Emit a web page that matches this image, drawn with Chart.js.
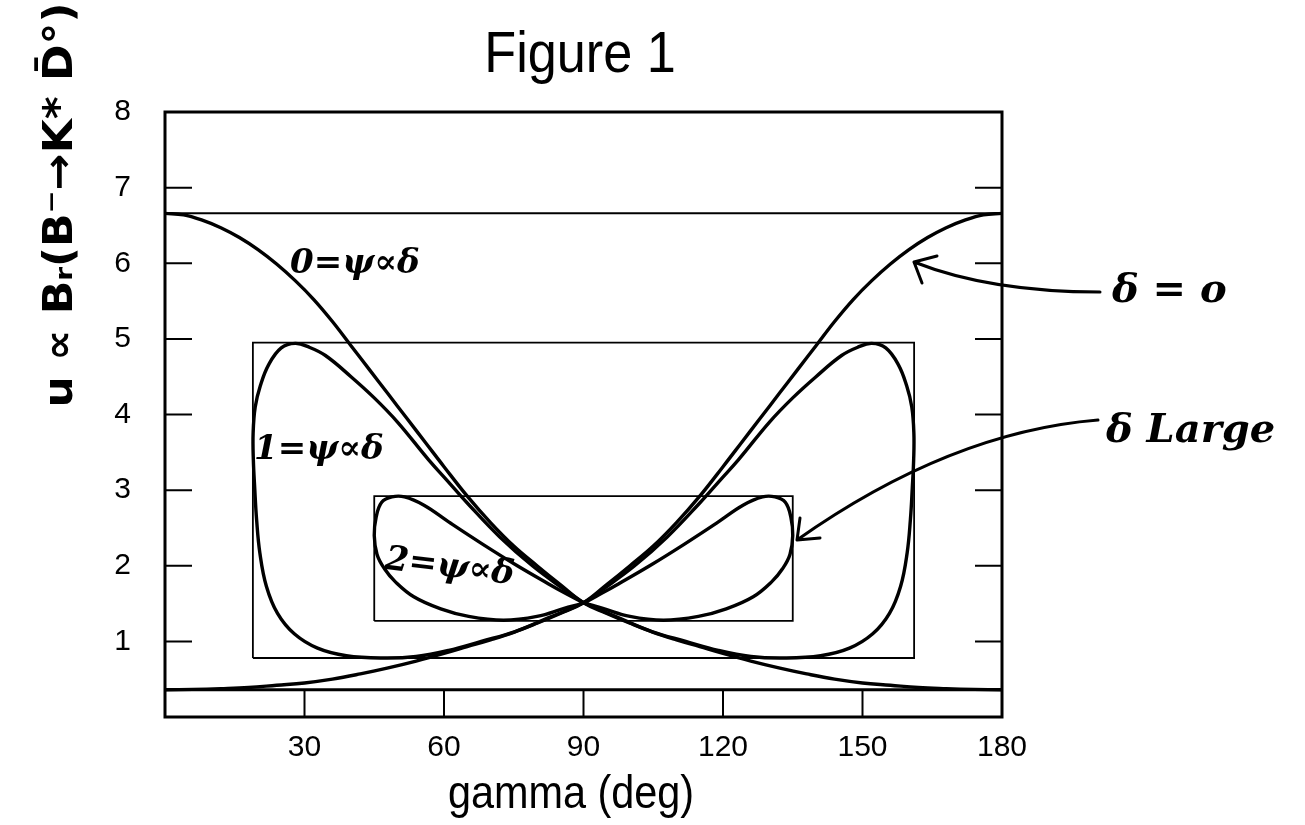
<!DOCTYPE html>
<html>
<head>
<meta charset="utf-8">
<script src="https://cdn.jsdelivr.net/npm/chart.js@4.4.0/dist/chart.umd.min.js"></script>
<style>
  body { margin: 0; background: #fff; }
  #fig { display: block; }
</style>
</head>
<body>
<canvas id="fig" width="1305" height="825"></canvas>
<script>
// values
var xTicks = [0, 30, 60, 90, 120, 150, 180];
var yTicks = [0, 1, 2, 3, 4, 5, 6, 7, 8];

// delta = 0 : two monotone curves
var d0DownX = [0, 4, 8, 12, 16, 20, 24, 28, 32, 36, 40, 44, 48, 52, 56, 60, 65, 70, 75, 80, 85, 90,
               95, 100, 105, 110, 115, 120, 126, 132, 138, 144, 150, 156, 162, 168, 174, 180];
var d0DownY = [6.66, 6.64, 6.57, 6.47, 6.34, 6.18, 5.99, 5.77, 5.52, 5.23, 4.91, 4.59, 4.27, 3.95, 3.63, 3.31, 2.92, 2.57, 2.26, 2.00, 1.75, 1.51,
               1.37, 1.24, 1.12, 1.02, 0.93, 0.84, 0.74, 0.65, 0.57, 0.50, 0.45, 0.42, 0.39, 0.375, 0.365, 0.36];
var d0UpX = [0, 6, 12, 18, 24, 30, 36, 42, 48, 54, 60, 65, 70, 75, 80, 85, 90,
             95, 100, 105, 110, 115, 120, 124, 128, 132, 136, 140, 144, 148, 152, 156, 160, 164, 168, 172, 176, 180];
var d0UpY = [0.36, 0.365, 0.375, 0.39, 0.42, 0.45, 0.50, 0.57, 0.65, 0.74, 0.84, 0.93, 1.02, 1.12, 1.24, 1.37, 1.51,
             1.75, 2.00, 2.26, 2.57, 2.92, 3.31, 3.63, 3.95, 4.27, 4.59, 4.91, 5.23, 5.52, 5.77, 5.99, 6.18, 6.34, 6.47, 6.57, 6.64, 6.66];
var d0Bounds = [6.66, 0.36];

// delta = 1 : figure-eight through (90, 1.51)
var d1X = [90, 86, 79, 72, 65, 60.5, 56.7, 50, 45, 40, 34.5, 31, 28, 25, 22.3, 20.5, 19.4, 18.95,
           19.0, 19.3, 19.7, 20.4, 21.8, 24.2, 27.8, 32.8, 39, 47, 54, 61, 68, 75.3, 82.4, 90,
           94, 101, 108, 115, 119.5, 123.3, 130, 135, 140, 145.5, 149, 152, 155, 157.7, 159.5, 160.6, 161.05,
           161, 160.7, 160.3, 159.6, 158.2, 155.8, 152.2, 147.2, 141, 133, 126, 119, 112, 104.7, 97.6, 90];
var d1Y = [1.51, 1.68, 2.00, 2.38, 2.83, 3.14, 3.40, 3.90, 4.22, 4.50, 4.78, 4.89, 4.94, 4.88, 4.66, 4.38, 4.10, 3.75,
           3.40, 3.02, 2.61, 2.17, 1.73, 1.37, 1.10, 0.91, 0.81, 0.78, 0.80, 0.88, 1.00, 1.13, 1.31, 1.51,
           1.68, 2.00, 2.38, 2.83, 3.14, 3.40, 3.90, 4.22, 4.50, 4.78, 4.89, 4.94, 4.88, 4.66, 4.38, 4.10, 3.75,
           3.40, 3.02, 2.61, 2.17, 1.73, 1.37, 1.10, 0.91, 0.81, 0.78, 0.80, 0.88, 1.00, 1.13, 1.31, 1.51];
var d1BoxX = [18.9, 161.1];
var d1BoxY = [0.78, 4.95];

// delta = 2 : smaller figure-eight
var d2X = [90, 86, 82.5, 75.5, 68.2, 61, 55.7, 51.5, 48.8, 46.6, 45.4, 45.0, 45.6, 47.2, 49.5, 53.5, 59.3, 65.3, 72.8, 80, 86, 90,
           94, 97.5, 104.5, 111.8, 119, 124.3, 128.5, 131.2, 133.4, 134.6, 135.0, 134.4, 132.8, 130.5, 126.5, 120.7, 114.7, 107.2, 100, 94, 90];
var d2Y = [1.51, 1.64, 1.76, 2.01, 2.29, 2.58, 2.80, 2.91, 2.91, 2.84, 2.64, 2.40, 2.15, 1.96, 1.79, 1.59, 1.43, 1.33, 1.28, 1.33, 1.44, 1.51,
           1.64, 1.76, 2.01, 2.29, 2.58, 2.80, 2.91, 2.91, 2.84, 2.64, 2.40, 2.15, 1.96, 1.79, 1.59, 1.43, 1.33, 1.28, 1.33, 1.44, 1.51];
var d2BoxX = [45.0, 135.0];
var d2BoxY = [1.27, 2.92];

function pts(xs, ys) {
  return xs.map(function (x, i) { return { x: x, y: ys[i] }; });
}
function box(bx, by) {
  return [
    { x: bx[0], y: by[0] }, { x: bx[1], y: by[0] }, { x: bx[1], y: by[1] },
    { x: bx[0], y: by[1] }, { x: bx[0], y: by[0] }
  ];
}
function curve(data, w) {
  return { data: data, showLine: true, borderColor: '#000', borderWidth: w,
           pointRadius: 0, tension: 0.4, fill: false };
}
function straight(data, w) {
  return { data: data, showLine: true, borderColor: '#000', borderWidth: w,
           pointRadius: 0, tension: 0, fill: false };
}

var datasets = [
  straight([{ x: 0, y: d0Bounds[0] }, { x: 180, y: d0Bounds[0] }], 2),
  straight([{ x: 0, y: d0Bounds[1] }, { x: 180, y: d0Bounds[1] }], 3),
  straight(box(d1BoxX, d1BoxY), 1.8),
  straight(box(d2BoxX, d2BoxY), 1.8),
  curve(pts(d0DownX, d0DownY), 3.4),
  curve(pts(d0UpX, d0UpY), 3.4),
  curve(pts(d1X, d1Y), 3.4),
  curve(pts(d2X, d2Y), 3.4)
];

// inward tick marks and the frame
var frameTicks = {
  id: 'frameTicks',
  afterDatasetsDraw: function (chart) {
    var c = chart.ctx, a = chart.chartArea;
    var xs = chart.scales.x, ys = chart.scales.y;
    c.save();
    c.strokeStyle = '#000';
    c.lineWidth = 2;
    xTicks.forEach(function (v) {
      if (v === 0 || v === 180) return;
      var px = xs.getPixelForValue(v);
      c.beginPath(); c.moveTo(px, a.bottom); c.lineTo(px, a.bottom - 26); c.stroke();
    });
    yTicks.forEach(function (v) {
      if (v === 0 || v === 8) return;
      var py = ys.getPixelForValue(v);
      c.beginPath();
      c.moveTo(a.left, py); c.lineTo(a.left + 27, py);
      c.moveTo(a.right, py); c.lineTo(a.right - 27, py);
      c.stroke();
    });
    c.lineWidth = 3;
    c.strokeRect(a.left, a.top, a.right - a.left, a.bottom - a.top);
    c.restore();
  }
};

function squeezed(c, text, x, y, sx) {
  c.save();
  c.translate(x, y);
  c.scale(sx, 1);
  c.fillText(text, 0, 0);
  c.restore();
}

// title, axis titles and the handwritten notes
var notes = {
  id: 'notes',
  afterDraw: function (chart) {
    var c = chart.ctx;
    c.save();
    c.fillStyle = '#000';
    c.strokeStyle = '#000';
    c.textAlign = 'center';
    c.textBaseline = 'alphabetic';

    c.font = '58px "Liberation Sans", Arial, sans-serif';
    squeezed(c, 'Figure 1', 580, 72, 0.9);
    c.font = '46px "Liberation Sans", Arial, sans-serif';
    squeezed(c, 'gamma (deg)', 571, 808, 0.9);

    // y title, rotated
    c.save();
    c.translate(62, 205);
    c.rotate(-Math.PI / 2);
    c.font = 'bold 40px "DejaVu Sans", sans-serif';
    var yt = 'u \u221D B\u1D63(B\u207B\u2192K* D\u0304\u00B0)';
    var w = c.measureText(yt).width;
    c.scale(405 / w, 1);
    c.textBaseline = 'middle';
    c.fillText(yt, 0, 0);
    c.restore();

    c.font = 'italic bold 34px "DejaVu Serif", serif';
    c.textBaseline = 'middle';
    c.textAlign = 'left';
    c.fillText('0=\u03C8\u221D\u03B4', 290, 264);
    c.fillText('1=\u03C8\u221D\u03B4', 254, 450);
    c.save();
    c.translate(385, 560);
    c.rotate(0.12);
    c.fillText('2=\u03C8\u221D\u03B4', 0, 0);
    c.restore();

    c.font = 'italic bold 40px "DejaVu Serif", serif';
    c.fillText('\u03B4 = o', 1112, 292);
    c.fillText('\u03B4 Large', 1106, 432);

    c.lineWidth = 3;
    c.lineCap = 'round';
    c.beginPath();
    c.moveTo(1100, 292);
    c.quadraticCurveTo(990, 292, 914, 262);
    c.moveTo(914, 262); c.lineTo(937, 256);
    c.moveTo(914, 262); c.lineTo(922, 283);
    c.stroke();

    c.beginPath();
    c.moveTo(1098, 420);
    c.quadraticCurveTo(950, 432, 797, 540);
    c.moveTo(797, 540); c.lineTo(800, 518);
    c.moveTo(797, 540); c.lineTo(820, 538);
    c.stroke();
    c.restore();
  }
};

var tickFont = { family: '"Liberation Sans", Arial, sans-serif', size: 30 };

new Chart(document.getElementById('fig'), {
  type: 'scatter',
  data: { datasets: datasets },
  options: {
    responsive: false,
    animation: false,
    layout: { padding: { top: 112, right: 303, bottom: 0, left: 0 } },
    plugins: { legend: { display: false }, tooltip: { enabled: false } },
    scales: {
      x: {
        type: 'linear', min: 0, max: 180,
        afterBuildTicks: function (s) { s.ticks = xTicks.map(function (v) { return { value: v }; }); },
        afterFit: function (s) { s.height = 108; },
        grid: { display: false, drawTicks: false },
        border: { display: false },
        ticks: { padding: 13, color: '#000', font: tickFont,
                 callback: function (v) { return v === 0 ? '' : v; } }
      },
      y: {
        type: 'linear', min: 0, max: 8,
        afterBuildTicks: function (s) { s.ticks = yTicks.map(function (v) { return { value: v }; }); },
        afterFit: function (s) { s.width = 165; },
        grid: { display: false, drawTicks: false },
        border: { display: false },
        ticks: { padding: 34, color: '#000', font: tickFont,
                 callback: function (v) { return v === 0 ? '' : v; } }
      }
    }
  },
  plugins: [frameTicks, notes]
});
</script>
</body>
</html>
